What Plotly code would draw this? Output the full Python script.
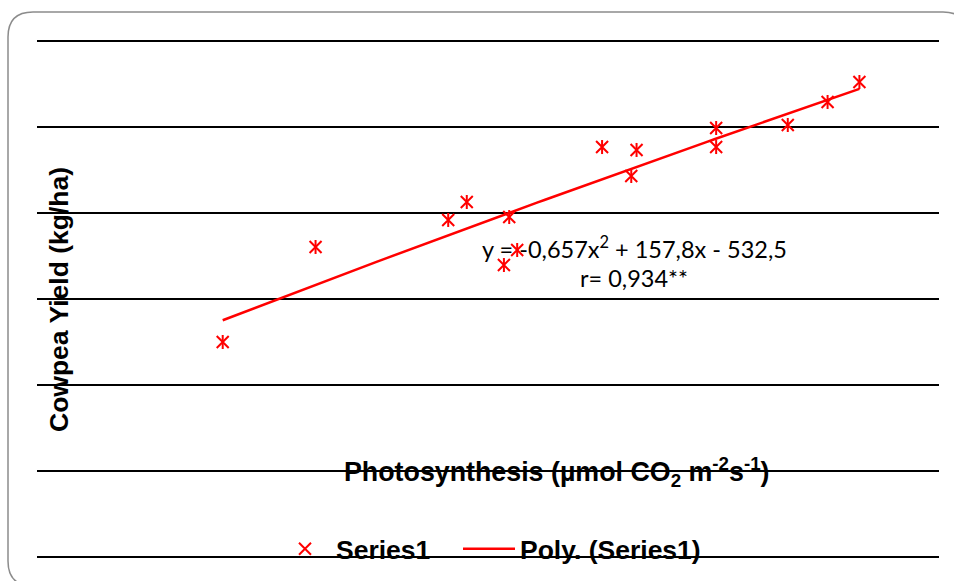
import numpy as np
import plotly.graph_objects as go

# Data (photosynthesis vs cowpea yield)
photosynthesis = [23.0, 26.5, 31.5, 32.2, 33.6, 33.8, 34.1, 37.3, 38.4, 38.6, 41.6, 41.6, 44.3, 45.8, 47.0]
cowpea_yield = [2500, 3605, 3919, 4128, 3395, 3953, 3570, 4767, 4430, 4733, 4767, 4988, 5023, 5291, 5523]

equation_text = "y = -0,657x<sup>2</sup> + 157,8x - 532,5"
r_text = "r= 0,934**"

# Polynomial (order 2) trendline fitted to the series
coef = np.polyfit(photosynthesis, cowpea_yield, 2)
xs = np.linspace(min(photosynthesis), max(photosynthesis), 80)
ys = np.polyval(coef, xs)

RED = "#FF0000"
W, H = 954, 581
LEGFONT = dict(size=26.5, family="Liberation Sans, Arial, sans-serif", weight="bold", color="black")

fig = go.Figure()
fig.add_trace(go.Scatter(
    x=photosynthesis, y=cowpea_yield, mode="markers", name="Series1", legend="legend",
    marker=dict(symbol="x-thin-open", size=12, color=RED, line=dict(color=RED, width=2)),
))
fig.add_trace(go.Scatter(
    x=photosynthesis, y=cowpea_yield, mode="markers", showlegend=False, hoverinfo="skip",
    marker=dict(symbol="line-ns-open", size=10, color=RED, line=dict(color=RED, width=2)),
))
fig.add_trace(go.Scatter(
    x=xs, y=ys, mode="lines", name="Poly. (Series1)", legend="legend2",
    line=dict(color=RED, width=2.5),
))

# y range padded so edge gridlines are drawn; pixel geometry
Y0, Y1 = 0, 6000
GRID_TOP, GRID_BOT = 41, 557
k = (GRID_BOT - GRID_TOP) / (Y1 - Y0)     # px per unit
PADPX = 2
pad = PADPX / k
L, R = 37, 939
T, B = GRID_TOP - PADPX, GRID_BOT + PADPX

def xp(px):
    return (px - L) / (R - L)
def yp(py):
    return (B - py) / (B - T)

# rounded chart frame (pixel geometry converted to paper coords)
fl, ft, fr, fb, rr = 8, 12, 968, 586, 25
path = (
    f"M {xp(fl+rr)},{yp(ft)} L {xp(fr-rr)},{yp(ft)} Q {xp(fr)},{yp(ft)} {xp(fr)},{yp(ft+rr)} "
    f"L {xp(fr)},{yp(fb-rr)} Q {xp(fr)},{yp(fb)} {xp(fr-rr)},{yp(fb)} "
    f"L {xp(fl+rr)},{yp(fb)} Q {xp(fl)},{yp(fb)} {xp(fl)},{yp(fb-rr)} "
    f"L {xp(fl)},{yp(ft+rr)} Q {xp(fl)},{yp(ft)} {xp(fl+rr)},{yp(ft)} Z"
)

fig.update_layout(
    width=W, height=H,
    margin=dict(l=L, r=W - R, t=T, b=H - B, pad=0, autoexpand=False),
    paper_bgcolor="white", plot_bgcolor="white",
    font=dict(family="Liberation Sans, Arial, sans-serif", color="black"),
    xaxis=dict(range=[16, 50], showgrid=False, zeroline=False, showticklabels=False,
               showline=False, ticks=""),
    yaxis=dict(range=[Y0 - pad, Y1 + pad], tick0=0, dtick=1000, showgrid=True,
               gridcolor="black", gridwidth=2,
               zeroline=False, showticklabels=False, showline=False, ticks=""),
    shapes=[dict(type="path", path=path, xref="paper", yref="paper",
                 line=dict(color="#8c8c8c", width=1.5), layer="below")],
    legend=dict(orientation="h", xref="container", yref="container",
                x=274 / W, xanchor="left", y=1 - 549 / H, yanchor="middle",
                itemwidth=52, bgcolor="rgba(0,0,0,0)", font=LEGFONT),
    legend2=dict(orientation="h", xref="container", yref="container",
                 x=458 / W, xanchor="left", y=1 - 549 / H, yanchor="middle",
                 itemwidth=52, bgcolor="rgba(0,0,0,0)", font=LEGFONT),
    showlegend=True,
    annotations=[
        dict(text="<b>Cowpea Yield (kg/ha)</b>", textangle=-90, xref="paper", yref="paper",
             x=xp(59), y=yp(300), showarrow=False, font=dict(size=26.5),
             xanchor="center", yanchor="middle"),
        dict(text="<b>Photosynthesis (µmol CO<sub>2</sub> m<sup>-2</sup>s<sup>-1</sup>)</b>",
             xref="paper", yref="paper", x=xp(557), y=yp(472), showarrow=False,
             font=dict(size=26.8), xanchor="center", yanchor="middle"),
        dict(text=equation_text, xref="paper", yref="paper", x=xp(634), y=yp(247),
             showarrow=False, font=dict(size=23.5, family="Lato, sans-serif"),
             xanchor="center", yanchor="middle"),
        dict(text=r_text, xref="paper", yref="paper", x=xp(634), y=yp(278),
             showarrow=False, font=dict(size=23.5, family="Lato, sans-serif"),
             xanchor="center", yanchor="middle"),
    ],
)

fig.write_html("out.html", config={"displayModeBar": False},
               post_script="document.body.style.margin='0';document.body.style.overflow='hidden';")
